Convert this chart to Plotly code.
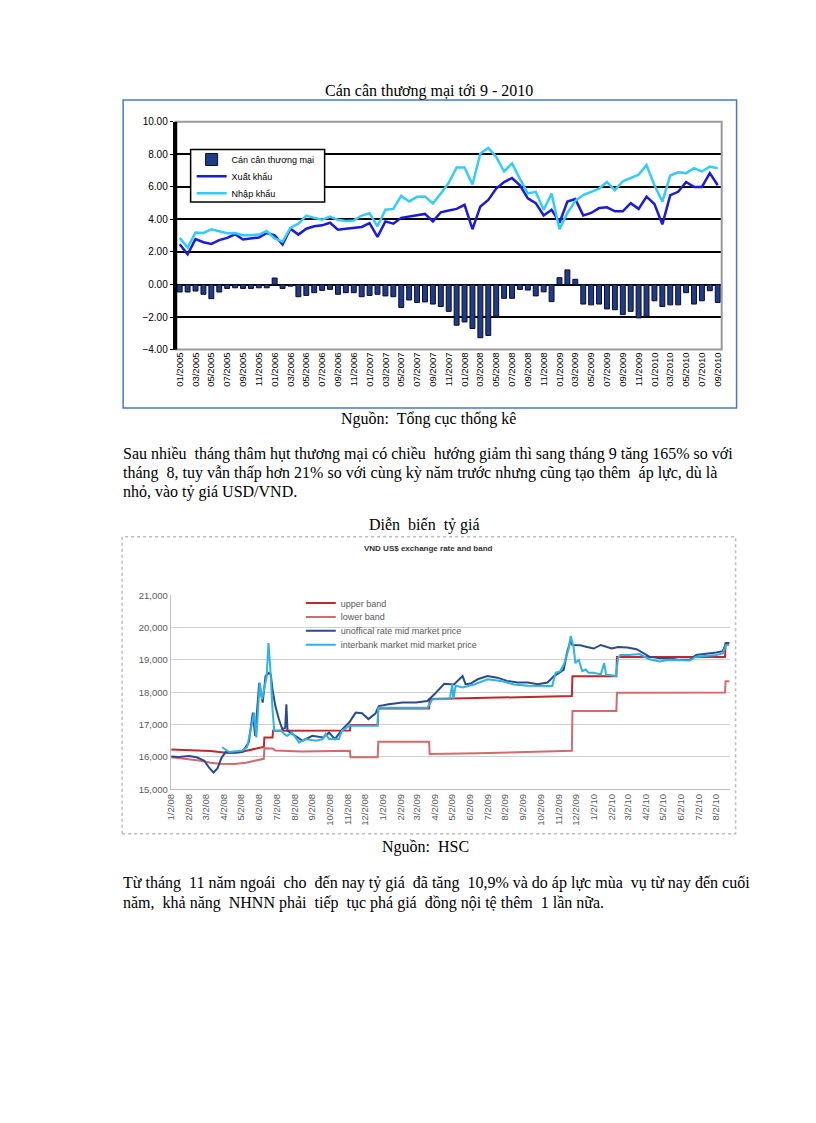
import plotly.graph_objects as go

W, H = 816, 1123
def PX(x): return x / W
def PY(y): return 1 - y / H

# ---------------- Top chart data (billion USD, monthly 01/2005 - 09/2010) -------------
months = [f"{m:02d}/{y}" for y in range(2005, 2011) for m in range(1, 13)][:69]
export_vals = [2.48, 1.86, 2.79, 2.60, 2.50, 2.73, 2.87, 3.09, 2.77, 2.83, 2.89, 3.17,
               3.03, 2.46, 3.43, 3.07, 3.43, 3.58, 3.64, 3.80, 3.37, 3.43, 3.47, 3.54,
               3.78, 2.93, 3.88, 3.74, 4.10, 4.18, 4.30, 4.34, 3.88, 4.44, 4.55, 4.65,
               4.90, 3.40, 4.80, 5.20, 5.90, 6.30, 6.55, 6.10, 5.30, 5.00, 4.25, 4.60,
               3.80, 5.10, 5.25, 4.25, 4.40, 4.70, 4.75, 4.50, 4.50, 5.00, 4.65, 5.40,
               4.95, 3.70, 5.50, 5.70, 6.30, 6.00, 6.00, 6.85, 6.10]
import_vals = [2.87, 2.28, 3.19, 3.17, 3.39, 3.27, 3.15, 3.17, 3.03, 3.03, 3.07, 3.29,
               2.83, 2.63, 3.50, 3.74, 4.24, 4.10, 3.98, 4.18, 3.98, 3.90, 3.94, 4.24,
               4.38, 3.58, 4.60, 4.65, 5.45, 5.11, 5.39, 5.41, 4.99, 5.60, 6.25, 7.20,
               7.20, 6.15, 8.05, 8.40, 7.85, 6.95, 7.45, 6.50, 5.60, 5.70, 4.60, 5.60,
               3.40, 4.40, 5.15, 5.50, 5.70, 5.90, 6.30, 5.80, 6.35, 6.55, 6.75, 7.35,
               6.10, 5.10, 6.70, 6.90, 6.85, 7.15, 6.95, 7.25, 7.15]
balance_vals = [-0.46, -0.46, -0.40, -0.60, -0.87, -0.46, -0.24, -0.20, -0.24, -0.24, -0.20, -0.20,
                0.40, -0.24, -0.10, -0.75, -0.67, -0.50, -0.36, -0.30, -0.60, -0.50, -0.50, -0.75,
                -0.67, -0.60, -0.70, -0.75, -1.41, -0.95, -1.10, -1.07, -1.20, -1.35, -1.65, -2.50,
                -2.30, -2.70, -3.27, -3.13, -1.96, -0.85, -0.85, -0.30, -0.34, -0.70, -0.45, -1.05,
                0.42, 0.90, 0.32, -1.20, -1.25, -1.20, -1.50, -1.55, -1.85, -1.65, -2.05, -1.95,
                -1.00, -1.35, -1.25, -1.25, -0.50, -1.20, -1.00, -0.38, -1.10]
top_yticks = [-4, -2, 0, 2, 4, 6, 8, 10]

# ---------------- Bottom chart data (VND per USD) -------------
band_dates_up = ["2008-01-02", "2008-02-15", "2008-03-10", "2008-03-25", "2008-04-10", "2008-05-01",
                 "2008-05-20", "2008-06-10", "2008-06-11", "2008-06-25", "2008-06-26", "2008-09-01",
                 "2008-11-06", "2008-11-07", "2008-12-24", "2008-12-25", "2009-03-23", "2009-03-24",
                 "2009-07-15", "2009-11-25", "2009-11-26", "2010-02-10", "2010-02-11", "2010-08-17",
                 "2010-08-18", "2010-08-25"]
upper_band = [16230, 16200, 16180, 16150, 16120, 16150,
              16220, 16310, 16600, 16600, 16810, 16810,
              16820, 16990, 16990, 17500, 17500, 17790,
              17830, 17880, 18490, 18490, 19090, 19090,
              19520, 19520]
band_dates_low = ["2008-01-02", "2008-02-15", "2008-03-10", "2008-03-25", "2008-04-20", "2008-05-10",
                  "2008-05-25", "2008-06-10", "2008-06-11", "2008-06-25", "2008-06-30", "2008-08-15",
                  "2008-11-06", "2008-11-07", "2008-12-24", "2008-12-25", "2009-03-23", "2009-03-24",
                  "2009-06-15", "2009-09-15", "2009-11-25", "2009-11-26", "2010-02-10", "2010-02-11",
                  "2010-08-17", "2010-08-18", "2010-08-25"]
lower_band = [15990, 15900, 15820, 15785, 15780, 15820,
              15880, 15940, 16270, 16260, 16200, 16170,
              16190, 15990, 15990, 16470, 16470, 16090,
              16110, 16150, 16190, 17420, 17420, 17985,
              17990, 18340, 18340]

unoff_dates = ["2008-01-02", "2008-01-15", "2008-02-01", "2008-02-15", "2008-02-28", "2008-03-08",
               "2008-03-15", "2008-03-22", "2008-03-29", "2008-04-05", "2008-04-20", "2008-05-04",
               "2008-05-15", "2008-05-22", "2008-05-26", "2008-06-02", "2008-06-08", "2008-06-13",
               "2008-06-19", "2008-06-22", "2008-06-25", "2008-06-30", "2008-07-06", "2008-07-12",
               "2008-07-17", "2008-07-19", "2008-07-21", "2008-08-04", "2008-08-16", "2008-09-02",
               "2008-09-20", "2008-10-01", "2008-10-11", "2008-10-24", "2008-11-05", "2008-11-16",
               "2008-11-27", "2008-12-08", "2008-12-20", "2008-12-26", "2009-01-12", "2009-02-05",
               "2009-02-28", "2009-03-20", "2009-04-02", "2009-04-18", "2009-05-05", "2009-05-20",
               "2009-05-25", "2009-06-03", "2009-06-15", "2009-07-02", "2009-07-19", "2009-08-05",
               "2009-08-23", "2009-09-10", "2009-09-27", "2009-10-14", "2009-10-25", "2009-11-03",
               "2009-11-11", "2009-11-17", "2009-11-23", "2009-11-26", "2009-12-10", "2009-12-21",
               "2010-01-02", "2010-01-14", "2010-02-02", "2010-02-13", "2010-03-01", "2010-03-17",
               "2010-03-28", "2010-04-08", "2010-04-26", "2010-05-13", "2010-05-30", "2010-06-17",
               "2010-06-28", "2010-07-15", "2010-08-02", "2010-08-13", "2010-08-19", "2010-08-24"]
unofficial = [16010, 16000, 16030, 15990, 15880, 15650,
              15520, 15650, 15980, 16150, 16130, 16150,
              16450, 17370, 16650, 18290, 17680, 18500,
              18600, 18550, 18090, 17570, 17170, 16860,
              16900, 17630, 16810, 16650, 16500, 16650,
              16600, 16750, 16550, 16860, 17070, 17370,
              17350, 17170, 17340, 17570, 17630, 17680,
              17680, 17730, 17950, 18260, 18240, 18500,
              18250, 18270, 18400, 18500, 18450, 18350,
              18300, 18300, 18250, 18300, 18500, 18600,
              18700, 19260, 19600, 19460, 19450, 19400,
              19350, 19460, 19350, 19400, 19380, 19330,
              19210, 19100, 19050, 19050, 19000, 19000,
              19150, 19180, 19230, 19270, 19520, 19500]

inter_dates = ["2008-03-30", "2008-04-11", "2008-05-04", "2008-05-12", "2008-05-21", "2008-05-24",
               "2008-05-28", "2008-06-03", "2008-06-07", "2008-06-11", "2008-06-15", "2008-06-18",
               "2008-06-21", "2008-06-25", "2008-06-28", "2008-07-10", "2008-07-15", "2008-07-20",
               "2008-07-29", "2008-08-10", "2008-08-21", "2008-09-08", "2008-09-20", "2008-09-25",
               "2008-10-01", "2008-10-18", "2008-10-23", "2008-11-05", "2008-11-27", "2008-12-24",
               "2008-12-25", "2009-03-20", "2009-03-29", "2009-04-28", "2009-05-02", "2009-05-04",
               "2009-05-08", "2009-05-20", "2009-06-09", "2009-07-02", "2009-07-25", "2009-08-17",
               "2009-09-10", "2009-10-02", "2009-10-22", "2009-10-28", "2009-11-05", "2009-11-12",
               "2009-11-19", "2009-11-23", "2009-11-28", "2009-12-01", "2009-12-07", "2009-12-13",
               "2009-12-19", "2009-12-24", "2010-01-02", "2010-01-14", "2010-01-20", "2010-01-23",
               "2010-02-03", "2010-02-09", "2010-02-13", "2010-02-17", "2010-03-04", "2010-03-22",
               "2010-04-08", "2010-04-26", "2010-05-13", "2010-05-30", "2010-06-17", "2010-06-28",
               "2010-07-15", "2010-08-02", "2010-08-13", "2010-08-19", "2010-08-24"]
interbank = [16300, 16150, 16200, 16300, 17070, 17370,
             16600, 18290, 17780, 18090, 18500, 19520,
             18800, 17470, 16810, 16810, 16710, 16650,
             16750, 16450, 16550, 16500, 16550, 16710,
             16550, 16550, 16810, 16960, 16960, 16960,
             17520, 17520, 17780, 17790, 18250, 17800,
             18200, 18150, 18240, 18400, 18350, 18240,
             18200, 18190, 18190, 18600, 18650, 18900,
             19310, 19740, 19400, 18900, 19000, 18650,
             18700, 18600, 18600, 18550, 18900, 18550,
             18520, 18500, 19060, 19150, 19150, 19180,
             19020, 18950, 19000, 18980, 18980, 19100,
             19120, 19150, 19200, 19460, 19460]

bottom_tick_dates = [f"{y}-{m:02d}-02" for y in (2008, 2009, 2010) for m in range(1, 13)][:32]
bottom_tick_text = [f"{m}/2/{str(y)[2:]}" for y in (2008, 2009, 2010) for m in range(1, 13)][:32]
bottom_yticks = [15000, 16000, 17000, 18000, 19000, 20000, 21000]

# ---------------- Figure -------------
fig = go.Figure()

fig.add_trace(go.Bar(x=months, y=balance_vals, name="Cán cân thương mại",
                     marker=dict(color="#1F3C88", line=dict(color="#0B0B2E", width=1)),
                     width=0.62, xaxis="x", yaxis="y", legend="legend"))
fig.add_trace(go.Scatter(x=months, y=export_vals, name="Xuất khẩu", mode="lines",
                         line=dict(color="#1A1AE6", width=2.5), xaxis="x", yaxis="y", legend="legend2"))
fig.add_trace(go.Scatter(x=months, y=import_vals, name="Nhập khẩu", mode="lines",
                         line=dict(color="#33CCFF", width=2.5), xaxis="x", yaxis="y", legend="legend3"))

fig.add_trace(go.Scatter(x=band_dates_up, y=upper_band, name="upper band", mode="lines",
                         line=dict(color="#C0282D", width=2), xaxis="x2", yaxis="y2", legend="legend4"))
fig.add_trace(go.Scatter(x=band_dates_low, y=lower_band, name="lower band", mode="lines",
                         line=dict(color="#D46A6D", width=2), xaxis="x2", yaxis="y2", legend="legend5"))
fig.add_trace(go.Scatter(x=unoff_dates, y=unofficial, name="unoffical rate mid market price", mode="lines",
                         line=dict(color="#2B4C8C", width=2), xaxis="x2", yaxis="y2", legend="legend6"))
fig.add_trace(go.Scatter(x=inter_dates, y=interbank, name="interbank market mid market price", mode="lines",
                         line=dict(color="#2EB3E8", width=2), xaxis="x2", yaxis="y2", legend="legend7"))

top_leg_font = dict(family="Arial", size=9, color="black")
bot_leg_font = dict(family="Arial", size=9, color="#595959")
def leg(x, y, font):
    return dict(x=PX(x), y=PY(y), xanchor="left", yanchor="middle", bgcolor="rgba(0,0,0,0)",
                borderwidth=0, font=font, itemwidth=30, tracegroupgap=0)

fig.update_layout(
    width=W, height=H, margin=dict(l=0, r=0, t=0, b=0),
    paper_bgcolor="white", plot_bgcolor="white",
    bargap=0.35,
    xaxis=dict(domain=[PX(172), PX(722)], type="category", range=[-0.5, 68.5],
               tickvals=months[::2], ticktext=months[::2], tickangle=-90,
               tickfont=dict(family="Arial", size=9.5, color="black"),
               showgrid=False, showline=False, ticks="", anchor="y"),
    yaxis=dict(domain=[PY(347), PY(117)], range=[-4, 10], tickvals=top_yticks,
               tickformat=".2f", tickfont=dict(family="Arial", size=10, color="black"),
               showgrid=True, gridcolor="black", gridwidth=2,
               zeroline=True, zerolinecolor="black", zerolinewidth=2,
               showline=True, linecolor="black", linewidth=3, ticks="outside",
               ticklen=3, tickcolor="black", anchor="x"),
    xaxis2=dict(domain=[PX(167), PX(730)], type="date", range=["2008-01-01", "2010-08-25"],
                tickvals=bottom_tick_dates, ticktext=bottom_tick_text, tickangle=-90,
                tickfont=dict(family="Arial", size=9.5, color="#595959"),
                showgrid=False, showline=True, linecolor="#BFBFBF", linewidth=1,
                ticks="", anchor="y2"),
    yaxis2=dict(domain=[PY(791), PY(595)], range=[15000, 21000], tickvals=bottom_yticks,
                tickformat=",", tickfont=dict(family="Arial", size=9.5, color="#595959"),
                showgrid=True, gridcolor="#D0D0D0", gridwidth=1, zeroline=False,
                showline=True, linecolor="#BFBFBF", linewidth=1, ticks="", anchor="x2"),
    legend=leg(188, 155, top_leg_font),
    legend2=leg(188, 172, top_leg_font),
    legend3=leg(188, 189, top_leg_font),
    legend4=leg(298, 603, bot_leg_font),
    legend5=leg(298, 617, bot_leg_font),
    legend6=leg(298, 631, bot_leg_font),
    legend7=leg(298, 645, bot_leg_font),
    showlegend=True,
)

shapes = [
    # top chart frame
    dict(type="rect", xref="paper", yref="paper", x0=PX(119), x1=PX(737), y0=PY(406), y1=PY(95),
         line=dict(color="#4A78C8", width=1.5), layer="below"),
    # top plot area border (gray)
    dict(type="rect", xref="x domain", yref="y domain", x0=0, x1=1, y0=0, y1=1,
         line=dict(color="#9A9A9A", width=2), layer="above"),
    dict(type="line", xref="x domain", yref="y domain", x0=0, x1=0, y0=0, y1=1,
         line=dict(color="black", width=3), layer="above"),
    # top legend box
    dict(type="rect", xref="paper", yref="paper", x0=PX(187), x1=PX(322), y0=PY(198), y1=PY(145),
         line=dict(color="black", width=1.5), fillcolor="white", layer="above"),
    # bottom chart frame
    dict(type="rect", xref="paper", yref="paper", x0=PX(118), x1=PX(736), y0=PY(836), y1=PY(536),
         line=dict(color="#BBBBBB", width=1.5, dash="dot"), layer="below"),
]
fig.update_layout(shapes=shapes)

serif = "Liberation Serif, Times New Roman, serif"
def txt(x, y, s, anchor="center", size=16, family=serif, color="black", bold=False):
    return dict(x=PX(x), y=PY(y), xref="paper", yref="paper", text=(f"<b>{s}</b>" if bold else s),
                showarrow=False, xanchor=anchor, yanchor="middle",
                font=dict(family=family, size=size, color=color))

annotations = [
    txt(427, 86, "Cán cân thương mại tới 9 - 2010"),
    txt(427, 417, "Nguồn:  Tổng cục thống kê"),
    txt(117, 452, "Sau nhiều  tháng thâm hụt thương mại có chiều  hướng giảm thì sang tháng 9 tăng 165% so với", "left"),
    txt(117, 472, "tháng  8, tuy vẫn thấp hơn 21% so với cùng kỳ năm trước nhưng cũng tạo thêm  áp lực, dù là", "left"),
    txt(117, 491, "nhỏ, vào tỷ giá USD/VND.", "left"),
    txt(423, 524, "Diễn  biến  tỷ giá"),
    txt(427, 548, "VND US$ exchange rate and band", size=8, family="Arial", color="#333333", bold=True),
    txt(424, 849, "Nguồn:  HSC"),
    txt(117, 886, "Từ tháng  11 năm ngoái  cho  đến nay tỷ giá  đã tăng  10,9% và do áp lực mùa  vụ từ nay đến cuối", "left"),
    txt(117, 906, "năm,  khả năng  NHNN phải  tiếp  tục phá giá  đồng nội tệ thêm  1 lần nữa.", "left"),
]
fig.update_layout(annotations=annotations)

fig.write_html("out.html")
